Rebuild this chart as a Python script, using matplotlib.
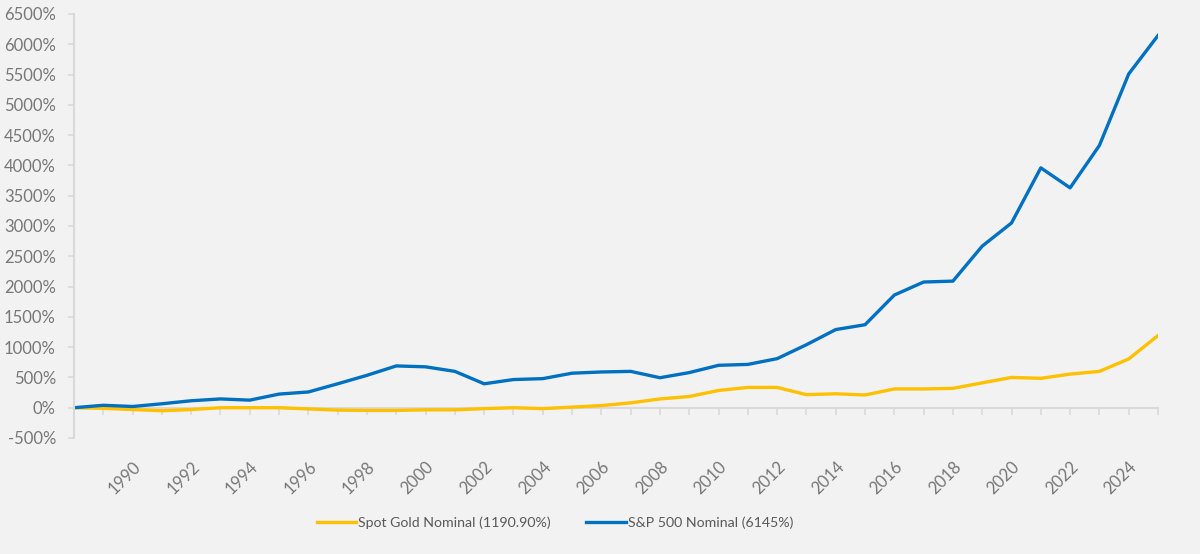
import matplotlib.pyplot as plt
from matplotlib.ticker import FuncFormatter, MultipleLocator

# cumulative nominal return since 1988, in percent
years = list(range(1988, 2026))
sp500 = [0, 40, 20, 65, 115, 145, 125, 225, 260, 395, 535, 690, 675, 600, 395, 465,
         480, 570, 590, 600, 495, 580, 700, 715, 810, 1040, 1290, 1370, 1860, 2075,
         2090, 2668, 3050, 3960, 3630, 4330, 5510, 6145]
gold = [0, -10, -30, -50, -30, 0, 0, 0, -20, -40, -45, -45, -35, -35, -15, 0,
        -15, 10, 35, 80, 145, 185, 285, 335, 335, 215, 230, 210, 310, 310,
        320, 410, 500, 485, 555, 600, 805, 1190.9]
gold_label = "Spot Gold Nominal (1190.90%)"
sp_label = "S&P 500 Nominal (6145%)"

bg = '#f2f2f2'
tick_col = '#777777'
axis_col = '#d9d9d9'

plt.rcParams['font.family'] = ['Lato', 'DejaVu Sans']

fig = plt.figure(figsize=(12, 5.54), dpi=100, facecolor=bg)
ax = fig.add_axes([74 / 1200, 1 - 438 / 554, (1158 - 74) / 1200, (438 - 14) / 554])
ax.set_facecolor(bg)

ax.plot(years, gold, color='#ffc000', lw=2.4, label=gold_label, solid_joinstyle='round')
ax.plot(years, sp500, color='#0070c0', lw=2.4, label=sp_label, solid_joinstyle='round')

ax.set_xlim(1988, 2025)
ax.set_ylim(-500, 6500)
ax.yaxis.set_major_locator(MultipleLocator(500))
ax.yaxis.set_major_formatter(FuncFormatter(lambda v, p: f"{v:.0f}%"))

for s in ['top', 'right', 'bottom']:
    ax.spines[s].set_visible(False)
ax.spines['left'].set_color(axis_col)
ax.spines['left'].set_linewidth(1.5)
ax.tick_params(axis='y', colors=axis_col, labelcolor=tick_col, labelsize=12,
               length=4, width=1.2, pad=9)

# year labels at the bottom, every second year
ax.set_xticks(list(range(1990, 2025, 2)))
ax.set_xticklabels([str(y) for y in range(1990, 2025, 2)], rotation=45,
                   ha='right', rotation_mode='anchor')
ax.tick_params(axis='x', length=0, labelcolor=tick_col, labelsize=12, pad=15)

# horizontal axis line at zero with yearly tick marks
zero_frac = 500 / 7000
sec = ax.secondary_xaxis(zero_frac)
sec.set_xticks(years)
sec.set_xticklabels([])
sec.spines['bottom'].set_color(axis_col)
sec.spines['bottom'].set_linewidth(1.5)
sec.tick_params(axis='x', colors=axis_col, length=5, width=1.2, direction='out')

leg = fig.legend(loc='center', bbox_to_anchor=(555 / 1200, 1 - 523 / 554), ncol=2,
                 frameon=False, fontsize=10.2, handlelength=2.8, handletextpad=0.15,
                 columnspacing=2.5)
for t in leg.get_texts():
    t.set_color('#595959')

fig.savefig('out.png', dpi=100, facecolor=bg)
